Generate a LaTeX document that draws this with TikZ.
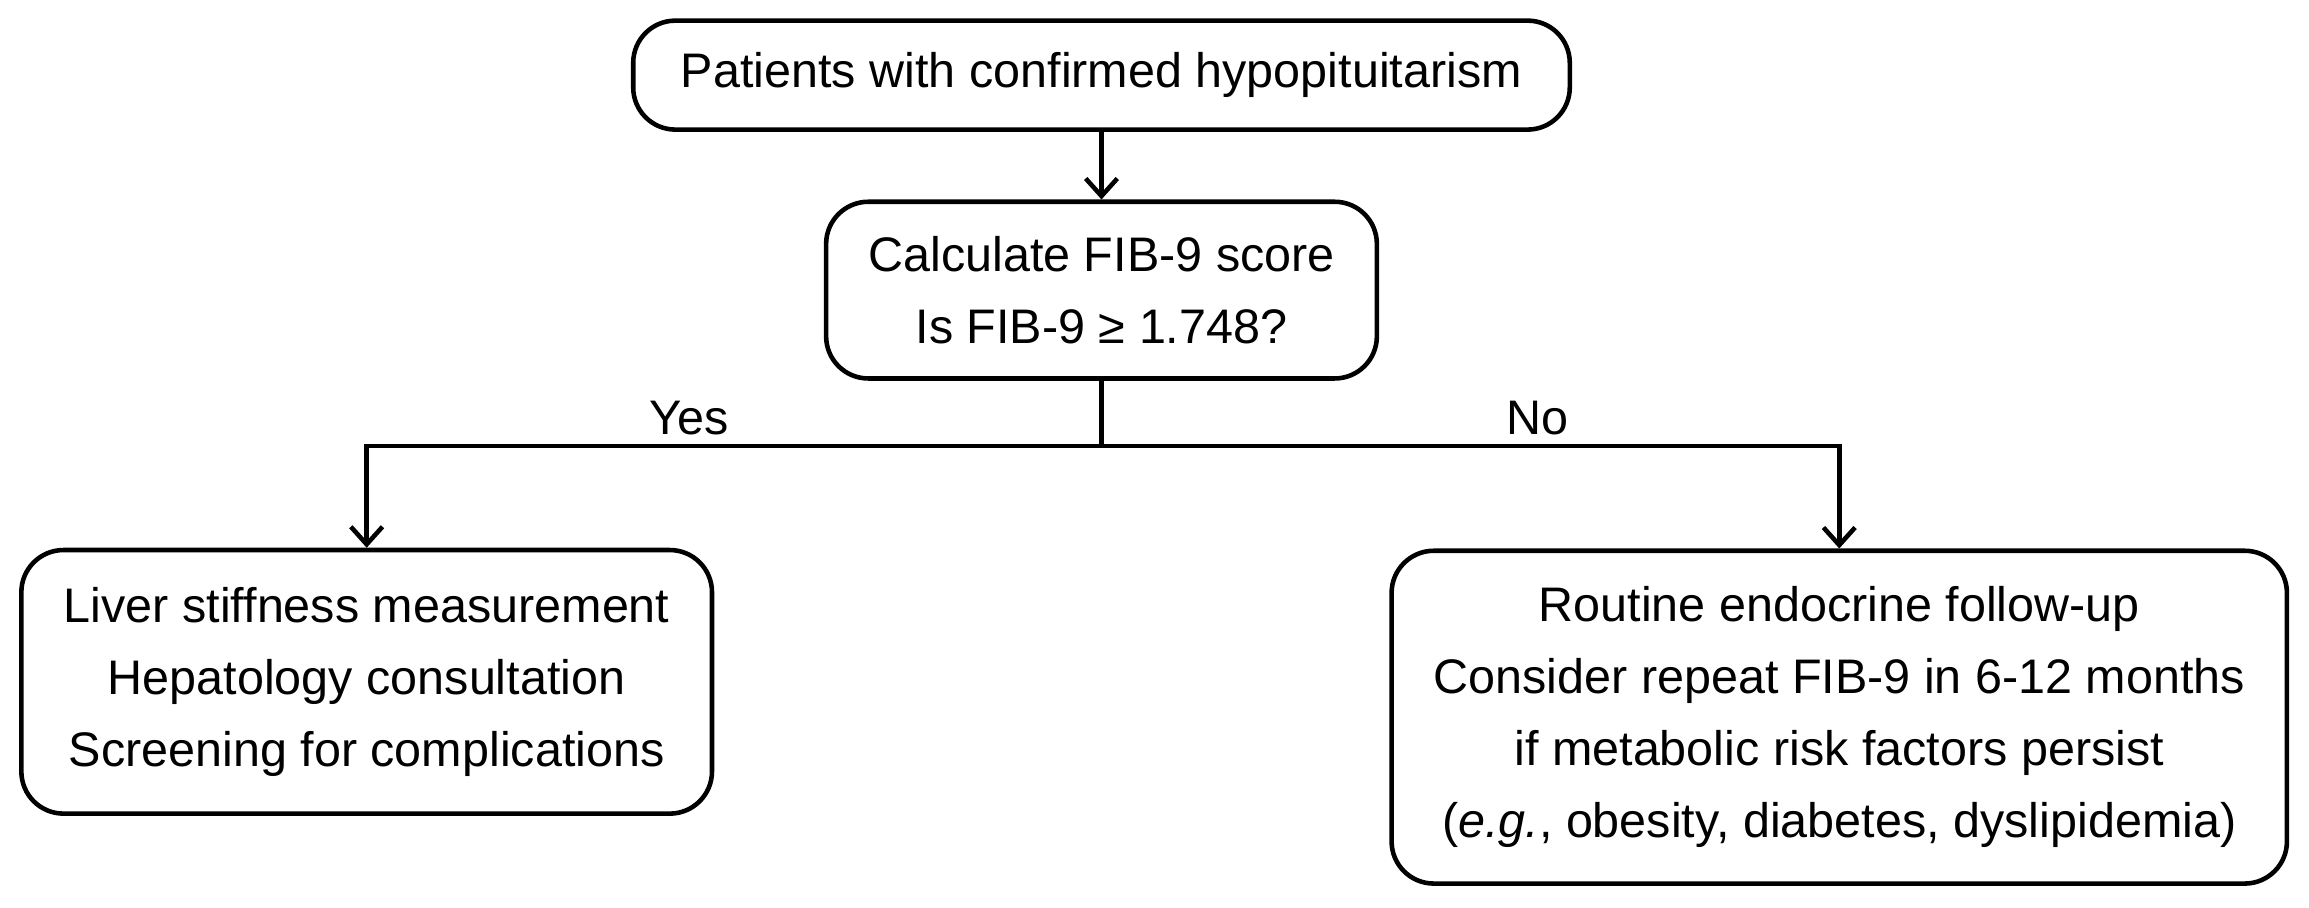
\documentclass[tikz,border=0pt]{standalone}
\usepackage{fontspec}
\setmainfont{Liberation Sans}
\usetikzlibrary{arrows.meta,positioning}

\tikzset{
    flowbox/.style={draw, line width=1.3pt, rounded corners=12pt, align=center,
        inner sep=0pt, font=\fontsize{13.8}{20.5}\selectfont},
    flow/.style={line width=1.3pt, -{Straight Barb[length=5pt,width=9pt]}},
    branch/.style={font=\fontsize{13.8}{16}\selectfont}
}

\begin{document}
\begin{tikzpicture}[x=0.01473cm, y=-0.01473cm]
    \useasboundingbox (0, 0) rectangle (1568, 616);
    % Boxes
    \node[flowbox, minimum width=636*0.01473cm, minimum height=74*0.01473cm]
        (patients) at (748, 51) {Patients with confirmed hypopituitarism};
    \node[flowbox, minimum width=374*0.01473cm, minimum height=120*0.01473cm]
        (score) at (748, 197) {Calculate FIB-9 score\\Is FIB-9 ≥ 1.748?};
    \node[flowbox, minimum width=469*0.01473cm, minimum height=179*0.01473cm]
        (liver) at (249, 463) {Liver stiffness measurement\\Hepatology consultation\\Screening for complications};
    \node[flowbox, minimum width=608*0.01473cm, minimum height=226*0.01473cm]
        (routine) at (1249, 487) {Routine endocrine follow-up\\Consider repeat FIB-9 in 6-12 months\\if metabolic risk factors persist\\(\textit{e.g.}, obesity, diabetes, dyslipidemia)};
    \coordinate (fork) at (748, 303);
    % Connectors
    \draw[flow] (patients) -- (score);
    \draw[line width=1.3pt] (score) -- (fork);
    \draw[flow] (fork) -| (liver);
    \draw[flow] (fork) -| (routine);
    \node[branch] (yes) at (468, 284) {Yes};
    \node[branch] (no) at (1044, 284) {No};
\end{tikzpicture}
\end{document}
